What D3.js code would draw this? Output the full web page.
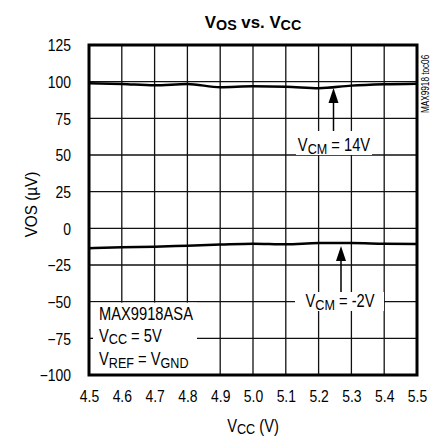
<!DOCTYPE html>
<html><head><meta charset="utf-8">
<script src="https://cdn.jsdelivr.net/npm/d3@7"></script>
<style>body{margin:0;background:#fff}svg{display:block}
text{font-family:"Liberation Sans",Arial,sans-serif;fill:#000}</style>
</head><body><svg id="c" width="445" height="438"></svg>
<script>
const vccValues = [4.5, 4.6, 4.7, 4.8, 4.9, 5.0, 5.1, 5.2, 5.3, 5.4, 5.5];
const vos14V = [98.9, 98.4, 97.5, 98.4, 96.2, 96.8, 96.6, 95.5, 97.3, 98.2, 98.6];
const vosNeg2V = [-13.6, -12.9, -12.5, -11.8, -11.1, -10.5, -10.9, -10.0, -10.0, -10.5, -10.7];
const xTicks = [4.5, 4.6, 4.7, 4.8, 4.9, 5.0, 5.1, 5.2, 5.3, 5.4, 5.5];
const yTicks = [-100, -75, -50, -25, 0, 25, 50, 75, 100, 125];

const svg = d3.select("#c");
const L = 89, R = 417, T = 45, B = 375;
const x = d3.scaleLinear().domain([4.5, 5.5]).range([L, R]);
const y = d3.scaleLinear().domain([-100, 125]).range([B, T]);

// text placed at (px,py) with horizontal condensing factor sx
function ntext(px, py, size, anchor, sx, extra) {
  return svg.append("text")
    .attr("transform", `translate(${px},${py}) ${extra || ""} scale(${sx},1)`)
    .attr("text-anchor", anchor).attr("font-size", size);
}

// grid
const g = svg.append("g");
g.selectAll(".vg").data(xTicks.slice(1, -1)).join("line")
  .attr("x1", d => x(d)).attr("x2", d => x(d)).attr("y1", T).attr("y2", B)
  .attr("stroke", "#111").attr("stroke-width", 1.3);
g.selectAll(".hg").data(yTicks.slice(1, -1)).join("line")
  .attr("x1", L).attr("x2", R).attr("y1", d => y(d)).attr("y2", d => y(d))
  .attr("stroke", "#111").attr("stroke-width", 1.3);

// axes labels via d3 axes
const TX = 0.87;
const xAxis = svg.append("g").attr("transform", `translate(0,${B})`)
  .call(d3.axisBottom(x).tickValues(xTicks).tickFormat(d3.format(".1f")).tickSize(0).tickPadding(15.5));
xAxis.select(".domain").remove();
xAxis.selectAll("text").attr("font-size", 16).attr("font-family", null).attr("transform", `scale(${TX},1)`);
const yAxis = svg.append("g").attr("transform", `translate(71,0)`)
  .call(d3.axisLeft(y).tickValues(yTicks).tickSize(0).tickPadding(0));
yAxis.select(".domain").remove();
yAxis.selectAll("text").attr("font-size", 16).attr("font-family", null).attr("dy", "0.36em").attr("transform", `scale(${TX},1)`);

// curves
const line = d3.line().curve(d3.curveMonotoneX);
[vos14V, vosNeg2V].forEach(s => {
  svg.append("path").attr("d", line(vccValues.map((v, i) => [x(v), y(s[i])])))
    .attr("fill", "none").attr("stroke", "#000").attr("stroke-width", 2.5);
});

// annotation helpers
function arrow(ax, y0, y1) {
  svg.append("line").attr("x1", ax).attr("x2", ax).attr("y1", y0).attr("y2", y1 + 12)
    .attr("stroke", "#000").attr("stroke-width", 1.5);
  svg.append("path").attr("d", `M${ax},${y1} L${ax - 5},${y1 + 15} L${ax + 5},${y1 + 15} Z`).attr("fill", "#000");
}
const LX = 0.84;
function vcmLabel(cx, cy, val, rect) {
  svg.append("rect").attr("x", rect[0]).attr("y", rect[1]).attr("width", rect[2]).attr("height", rect[3]).attr("fill", "#fff");
  const t = ntext(cx, cy, 17.5, "middle", LX);
  t.append("tspan").text("V");
  t.append("tspan").text("CM").attr("font-size", 15).attr("dy", 2.5);
  t.append("tspan").text(" = " + val).attr("dy", -2.5);
}
vcmLabel(334, 151, "14V", [296, 131, 76, 24]);
arrow(333.5, 131, 88);
vcmLabel(340, 307, "-2V", [295, 292, 89, 19]);
arrow(341, 292, 246);

// legend box
svg.append("rect").attr("x", L).attr("y", y(-50) + 1).attr("width", 108).attr("height", B - y(-50) - 1).attr("fill", "#fff");
ntext(99, 320, 17.5, "start", LX).text("MAX9918ASA");
const l2 = ntext(99, 341.5, 17.5, "start", LX);
l2.append("tspan").text("V"); l2.append("tspan").text("CC").attr("font-size", 15).attr("dy", 2.5); l2.append("tspan").text(" = 5V").attr("dy", -2.5);
const l3 = ntext(99, 365, 17.5, "start", LX);
l3.append("tspan").text("V"); l3.append("tspan").text("REF").attr("font-size", 15).attr("dy", 2.5);
l3.append("tspan").text(" = V").attr("dy", -2.5); l3.append("tspan").text("GND").attr("font-size", 15).attr("dy", 2.5);
svg.append("line").attr("x1", L).attr("x2", L + 4).attr("y1", y(-75)).attr("y2", y(-75)).attr("stroke", "#000").attr("stroke-width", 1.3);

// frame
svg.append("rect").attr("x", L).attr("y", T).attr("width", R - L).attr("height", B - T)
  .attr("fill", "none").attr("stroke", "#000").attr("stroke-width", 3);

// title
const tt = ntext(253, 28, 16.5, "middle", 1.02).attr("font-weight", "bold");
tt.append("tspan").text("V"); tt.append("tspan").text("OS").attr("font-size", 14).attr("dy", 1.6);
tt.append("tspan").text(" vs. V").attr("dy", -1.6); tt.append("tspan").text("CC").attr("font-size", 14).attr("dy", 1.6);

// y title (rotated)
svg.append("text").attr("transform", `translate(36.5,204.5) rotate(-90) scale(0.9,1)`).attr("text-anchor", "middle")
  .attr("font-size", 17).text("VOS (µV)");
// x title
const xt = ntext(253, 431.5, 17.5, "middle", LX);
xt.append("tspan").text("V"); xt.append("tspan").text("CC").attr("font-size", 15).attr("dy", 2); xt.append("tspan").text(" (V)").attr("dy", -2);

// side label
svg.append("text").attr("transform", `translate(429,113) rotate(-90) scale(0.82,1)`).attr("font-size", 10).text("MAX9918 toc06");
</script></body></html>
